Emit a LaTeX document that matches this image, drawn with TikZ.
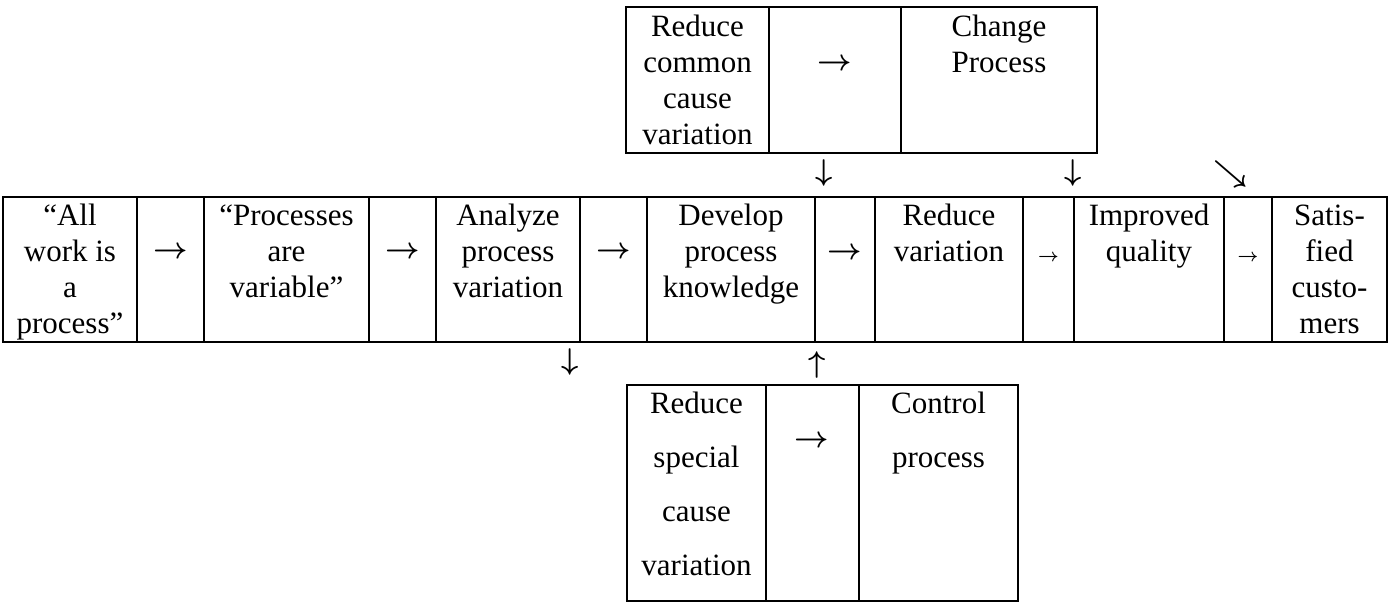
\RequirePackage{fix-cm}
\documentclass[tikz,border=0pt]{standalone}
\usepackage{fontspec}
\setmainfont{Liberation Serif}
\newcommand{\fst}{\rule{0pt}{25pt}}
\begin{document}
\begin{tikzpicture}[x=1pt,y=-1pt,
  cell/.style={draw,line width=1.4pt},
  txt/.style={anchor=north,inner sep=0pt,align=center,font=\fontsize{31}{36}\selectfont},
  txtb/.style={anchor=north,inner sep=0pt,align=center,font=\fontsize{31}{54}\selectfont},
  arr/.style={inner sep=0pt,font=\fontsize{30}{36}\selectfont\boldmath},
  sarr/.style={inner sep=0pt,font=\fontsize{18}{22}\selectfont\boldmath}]
\useasboundingbox (0,0) rectangle (1395,603);
% main row cells
\foreach \a/\b in {3/137,137/204,204/369,369/436,436/580,580/647,647/815,815/875,875/1023,1023/1074,1074/1224,1224/1272,1272/1387}
  \draw[cell] (\a,197) rectangle (\b,342);
% top box cells
\foreach \a/\b in {626/769,769/901,901/1097}
  \draw[cell] (\a,7) rectangle (\b,153);
% bottom box cells
\foreach \a/\b in {627/766,766/859,859/1018}
  \draw[cell] (\a,385) rectangle (\b,601);
% main row texts
\node[txt] (m1) at (70,200) {\fst“All\\work is\\a\\process”};
\node[arr] (a1) at (171,253) {$\rightarrow$};
\node[txt] (m2) at (286.5,200) {\fst“Processes\\are\\variable”};
\node[arr] (a2) at (402.5,253) {$\rightarrow$};
\node[txt] (m3) at (508,200) {\fst Analyze\\process\\variation};
\node[arr] (a3) at (613.5,253) {$\rightarrow$};
\node[txt] (m4) at (731,200) {\fst Develop\\process\\knowledge};
\node[arr] (a4) at (845,254) {$\rightarrow$};
\node[txt] (m5) at (949,200) {\fst Reduce\\variation};
\node[sarr] (a5) at (1048.5,258) {$\rightarrow$};
\node[txt] (m6) at (1149,200) {\fst Improved\\quality};
\node[sarr] (a6) at (1248,258) {$\rightarrow$};
\node[txt] (m7) at (1329.5,200) {\fst Satis-\\fied\\custo-\\mers};
% top box texts
\node[txt] (t1) at (697.5,11) {\fst Reduce\\common\\cause\\variation};
\node[arr] (t2) at (835,65) {$\rightarrow$};
\node[txt] (t3) at (999,11) {\fst Change\\Process};
% arrows between top box and main row
\node[arr] (d1) at (824,173) {$\downarrow$};
\node[arr] (d2) at (1073,173) {$\downarrow$};
\node[arr] (d3) at (1231,174) {$\searrow$};
% arrows below main row
\node[arr] (d4) at (570,362) {$\downarrow$};
\node[arr] (u1) at (817,365) {$\uparrow$};
% bottom box texts
\node[txtb] (b1) at (696.5,388) {\fst Reduce\\special\\cause\\variation};
\node[arr] (b2) at (812,442) {$\rightarrow$};
\node[txtb] (b3) at (938.5,388) {\fst Control\\process};
\end{tikzpicture}
\end{document}
